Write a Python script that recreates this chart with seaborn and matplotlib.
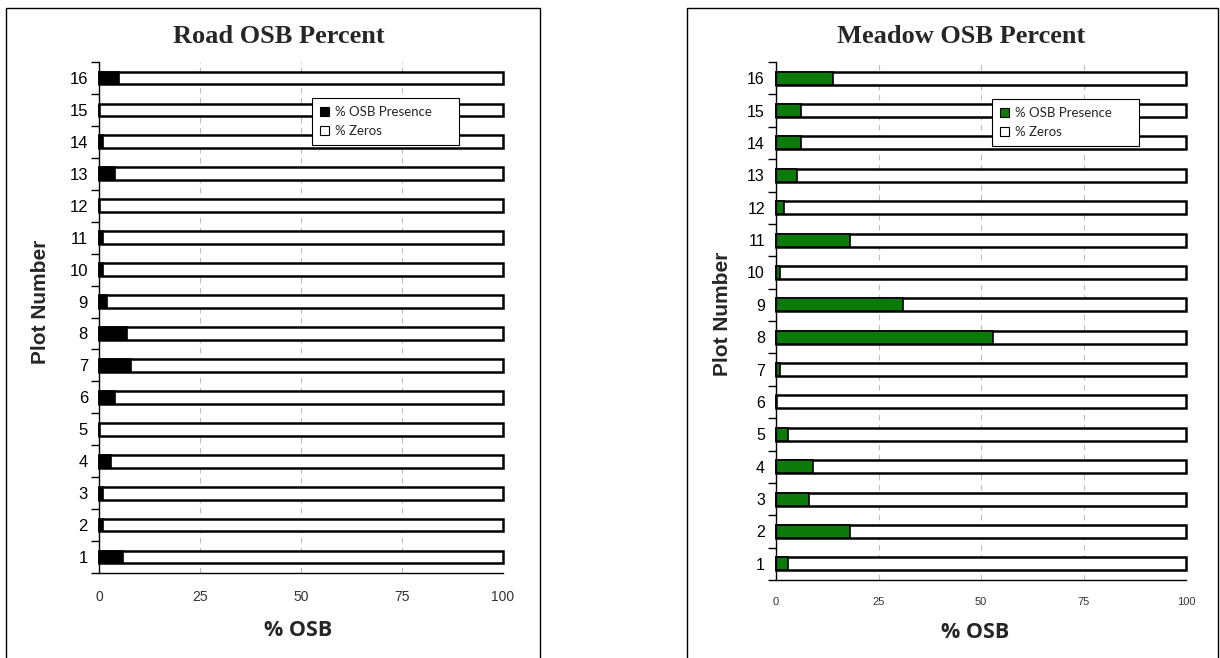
import matplotlib
matplotlib.use("Agg")
import matplotlib.pyplot as plt
from matplotlib.patches import Patch
from matplotlib.lines import Line2D
from matplotlib.ticker import FixedLocator
import seaborn as sns
import pandas as pd

# Plot numbers and the share of samples with / without OSB (percent)
plots = list(range(1, 17))
road_presence = [6, 1, 1, 3, 0, 4, 8, 7, 2, 1, 1, 0, 4, 1, 0, 5]
road_zeros = [94, 99, 99, 97, 100, 96, 92, 93, 98, 99, 99, 100, 96, 99, 100, 95]
meadow_presence = [3, 18, 8, 9, 3, 0, 1, 53, 31, 1, 18, 2, 5, 6, 6, 14]
meadow_zeros = [97, 82, 92, 91, 97, 100, 99, 47, 69, 99, 82, 98, 95, 94, 94, 86]
x_ticks = [0, 25, 50, 75, 100]

sns.set_theme(style="white")
plt.rcParams["font.family"] = ["Liberation Sans", "DejaVu Sans"]

W, H = 1220, 658
fig = plt.figure(figsize=(W / 100, H / 100), dpi=100)
fig.patch.set_facecolor("white")


def fx(px):
    return px / W


def fy(py):
    return 1 - py / H


def panel(rect, presence, zeros, color, title, title_xy, xlabel_xy, ylabel_xy,
          legend_box, ytick_size, ytick_weight, xtick_size):
    ax = fig.add_axes(rect)
    order = [str(p) for p in reversed(plots)]
    df = pd.DataFrame({
        "plot": [str(p) for p in plots],
        "presence": presence,
        "total": [p + z for p, z in zip(presence, zeros)],
    })
    # full-length outline bar ("% Zeros" part), then the presence part over it
    sns.barplot(data=df, x="total", y="plot", order=order, orient="h",
                color="white", saturation=1, width=0.4, edgecolor="black",
                linewidth=1.8, ax=ax)
    sns.barplot(data=df, x="presence", y="plot", order=order, orient="h",
                color=color, saturation=1, width=0.4, edgecolor="black",
                linewidth=1.2, ax=ax)
    for p in ax.patches:
        p.set_clip_on(False)
    ax.set_xlim(0, 100)
    ax.set_ylim(15.5, -0.5)
    ax.set_facecolor("white")
    ax.set_xlabel("")
    ax.set_ylabel("")
    for s in ["top", "right"]:
        ax.spines[s].set_visible(False)
    for s in ["left", "bottom"]:
        ax.spines[s].set_color("black")
        ax.spines[s].set_linewidth(1.0)
    ax.xaxis.set_major_locator(FixedLocator(x_ticks))
    ax.set_xticklabels([str(t) for t in x_ticks])
    ax.tick_params(axis="x", direction="inout", length=9, width=1.0,
                   colors="black", labelcolor="#333333",
                   labelsize=xtick_size, pad=8)
    ax.tick_params(axis="y", which="major", length=0, pad=8,
                   labelsize=ytick_size, labelcolor="black")
    for t in ax.get_yticklabels():
        t.set_fontweight(ytick_weight)
    ax.yaxis.set_minor_locator(FixedLocator([i - 0.5 for i in range(17)]))
    ax.tick_params(axis="y", which="minor", direction="out", length=6,
                   width=1.0, color="black", left=True)
    ax.xaxis.grid(True, linestyle=(0, (5, 4)), color="#bdbdbd", linewidth=0.8)
    ax.yaxis.grid(False)
    ax.set_axisbelow(True)

    fig.text(fx(title_xy[0]), fy(title_xy[1]), title, ha="left",
             va="baseline", fontsize=19, fontweight="bold",
             family="Liberation Serif")
    fig.text(fx(xlabel_xy[0]), fy(xlabel_xy[1]), "% OSB", ha="center",
             va="center", fontsize=15.5, fontweight="bold", family="Open Sans")
    fig.text(fx(ylabel_xy[0]), fy(ylabel_xy[1]), "Plot Number", ha="center",
             va="center", rotation=90, fontsize=15, fontweight="bold",
             family="Liberation Sans")

    handles = [Patch(facecolor=color, edgecolor="black", linewidth=0.8),
               Patch(facecolor="white", edgecolor="black", linewidth=0.8)]
    x0, y0, x1, y1 = legend_box
    leg = ax.legend(handles, ["% OSB Presence", "% Zeros"], loc="upper left",
                    bbox_to_anchor=(fx(x0), fy(y1), fx(x1) - fx(x0),
                                    fy(y0) - fy(y1)),
                    bbox_transform=fig.transFigure, mode="expand",
                    frameon=True, fancybox=False, shadow=False,
                    borderpad=0.6, handlelength=0.7, handleheight=0.7,
                    handletextpad=0.45, labelspacing=0.55, borderaxespad=0,
                    prop={"family": "Lato", "size": 9.5})
    leg.get_frame().set_edgecolor("black")
    leg.get_frame().set_linewidth(0.8)
    leg.get_frame().set_facecolor("white")
    leg.get_frame().set_alpha(1)
    return ax


# Road panel
panel([fx(99), fy(573), fx(503) - fx(99), fy(62) - fy(573)],
      road_presence, road_zeros, "black", "Road OSB Percent",
      (173, 43), (298, 630), (40, 302), (312, 98, 459, 145), 12, "normal", 10)

# Meadow panel
panel([fx(776), fy(580), fx(1186) - fx(776), fy(62) - fy(580)],
      meadow_presence, meadow_zeros, "#0b7a0b", "Meadow OSB Percent",
      (837, 43), (975, 632), (722, 314), (992, 99, 1139, 145), 11.5, "light", 8)

# Frames around each panel (open at the bottom edge)
for x0, x1 in [(6, 540), (687, 1218)]:
    pts_x = [fx(x0), fx(x0), fx(x1), fx(x1)]
    pts_y = [fy(H + 5), fy(8), fy(8), fy(H + 5)]
    fig.add_artist(Line2D(pts_x, pts_y, color="black", linewidth=1.0,
                          transform=fig.transFigure))

fig.savefig("out.png", dpi=100, facecolor="white")
